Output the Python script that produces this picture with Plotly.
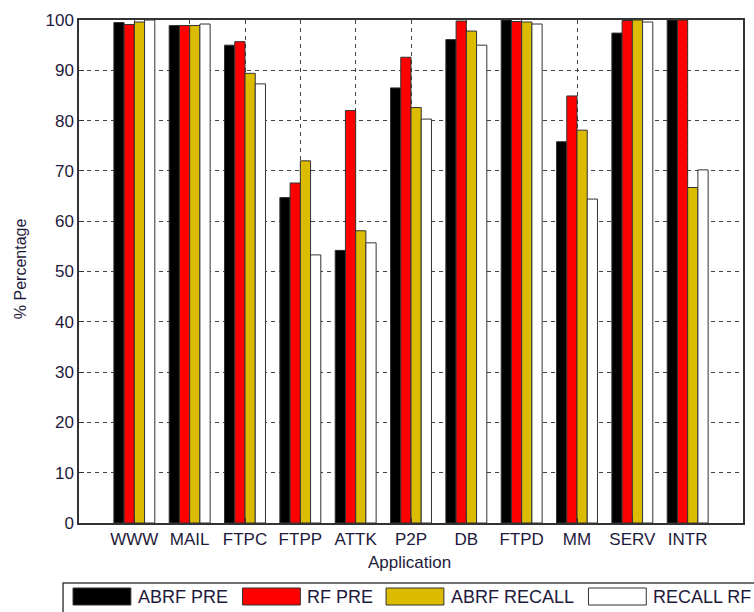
import plotly.graph_objects as go

# Per-application precision / recall results (%)
applications = ["WWW", "MAIL", "FTPC", "FTPP", "ATTK", "P2P", "DB", "FTPD", "MM", "SERV", "INTR"]
abrf_pre = [99.5, 98.9, 95.0, 64.7, 54.2, 86.5, 96.1, 100.0, 75.8, 97.4, 100.0]
rf_pre = [99.1, 98.9, 95.7, 67.6, 82.0, 92.6, 99.8, 99.7, 84.9, 99.9, 100.0]
abrf_recall = [99.6, 98.9, 89.4, 72.0, 58.1, 82.6, 97.8, 99.6, 78.1, 100.0, 66.7]
recall_rf = [100.0, 99.2, 87.3, 53.3, 55.7, 80.3, 95.0, 99.2, 64.4, 99.6, 70.2]

series_names = ["ABRF PRE", "RF PRE", "ABRF RECALL", "RECALL RF"]
series_values = [abrf_pre, rf_pre, abrf_recall, recall_rf]
series_colors = ["#000000", "#ff0000", "#dcbc00", "#ffffff"]

y_ticks = list(range(0, 101, 10))

W, H = 754, 612
M_L, M_R, M_T, M_B = 79, 9, 20, 89
PW = W - M_L - M_R
PH = H - M_T - M_B

FONT = "Liberation Sans, Arial, sans-serif"
TXT = "#1e1a3c"

positions = list(range(1, len(applications) + 1))

fig = go.Figure()
for name, vals, col in zip(series_names, series_values, series_colors):
    fig.add_trace(go.Bar(
        x=positions, y=vals, name=name,
        marker=dict(color=col, line=dict(color="#333333", width=1)),
        showlegend=False,
    ))


def px_x(p):
    return (p - M_L) / PW


def px_y(p):
    return (H - M_B - p) / PH


shapes = []
annotations = []

# Legend strip along the bottom
shapes.append(dict(type="rect", xref="paper", yref="paper",
                   x0=px_x(63), x1=px_x(770), y0=px_y(625), y1=px_y(583),
                   line=dict(color="#444444", width=1.5), fillcolor="white", layer="above"))
patch_x = [73, 243, 387, 590]
for name, col, x0 in zip(series_names, series_colors, patch_x):
    shapes.append(dict(type="rect", xref="paper", yref="paper",
                       x0=px_x(x0), x1=px_x(x0 + 58), y0=px_y(605), y1=px_y(588),
                       line=dict(color="#333333", width=1), fillcolor=col, layer="above"))
    annotations.append(dict(x=px_x(x0 + 63), y=px_y(597), xref="paper", yref="paper",
                            text=name, showarrow=False, xanchor="left", yanchor="middle",
                            font=dict(family=FONT, size=18, color=TXT)))

# Axis titles
annotations.append(dict(x=px_x(410), y=px_y(562), xref="paper", yref="paper",
                        text="Application", showarrow=False, xanchor="center", yanchor="middle",
                        font=dict(family=FONT, size=17, color=TXT)))
annotations.append(dict(x=px_x(20), y=px_y(269), xref="paper", yref="paper",
                        text="% Percentage", showarrow=False, textangle=-90,
                        xanchor="center", yanchor="middle",
                        font=dict(family=FONT, size=16, color=TXT)))

fig.update_layout(
    width=W, height=H,
    margin=dict(l=M_L, r=M_R, t=M_T, b=M_B),
    paper_bgcolor="white", plot_bgcolor="white",
    barmode="group", bargap=0.26, bargroupgap=0,
    shapes=shapes, annotations=annotations,
    showlegend=False,
    font=dict(family=FONT, size=17, color=TXT),
)
fig.update_xaxes(
    range=[0, len(applications) + 1],
    tickvals=positions, ticktext=applications,
    showgrid=True, gridcolor="#444444", gridwidth=1, griddash="4px,4px",
    ticks="inside", ticklen=5, tickcolor="#333333",
    showline=True, linecolor="#333333", linewidth=1.5, mirror=True,
    zeroline=False, tickfont=dict(family=FONT, size=17, color=TXT),
)
fig.update_yaxes(
    range=[0, 100], tickvals=y_ticks,
    showgrid=True, gridcolor="#444444", gridwidth=1, griddash="4px,4px",
    ticks="inside", ticklen=5, tickcolor="#333333",
    showline=True, linecolor="#333333", linewidth=1.5, mirror=True,
    zeroline=False, tickfont=dict(family=FONT, size=17, color=TXT),
)

fig.write_html("out.html")
